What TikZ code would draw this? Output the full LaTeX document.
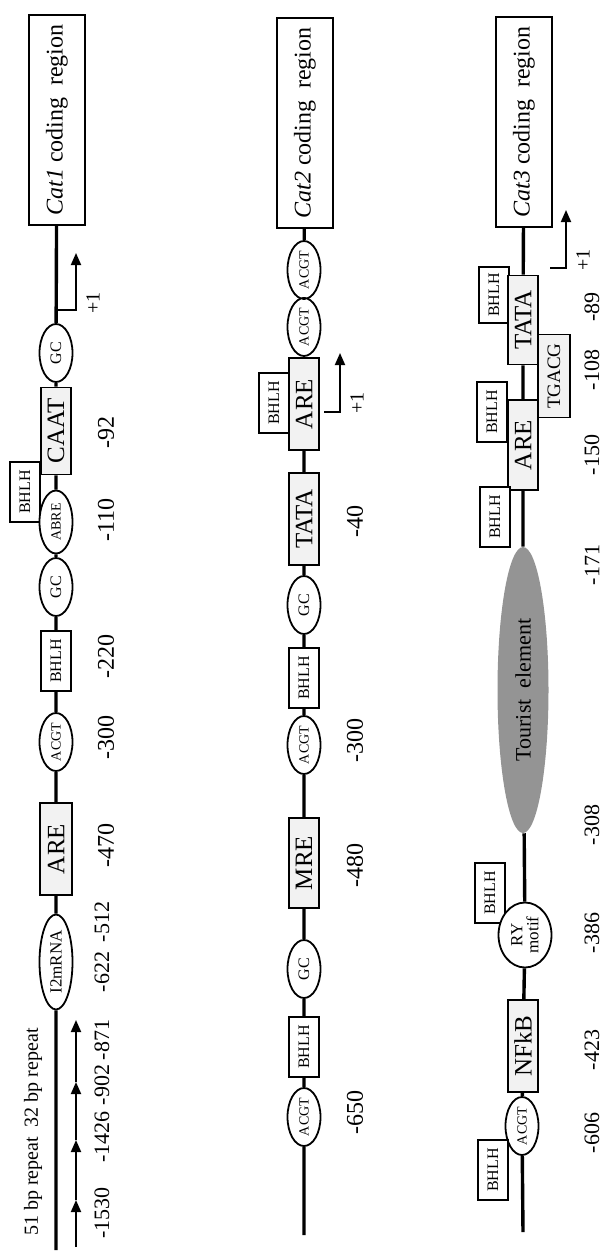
\documentclass[tikz,border=0pt]{standalone}
\usepackage{fontspec}
\setmainfont{Liberation Serif}
\usetikzlibrary{arrows.meta,shapes.geometric}
\tikzset{
  dna/.style={line width=1.7pt},
  site/.style={draw,line width=0.9pt,fill=gray!10,rotate=90,inner sep=0pt,minimum width=46pt,minimum height=15pt,font=\fontsize{12.5}{12}\selectfont},
  bhlh/.style={draw,line width=0.9pt,fill=white,rotate=90,inner sep=0pt,minimum width=30pt,minimum height=15pt,font=\fontsize{8}{8}\selectfont},
  motif/.style={draw,ellipse,line width=0.9pt,fill=white,rotate=90,inner sep=0pt,minimum width=29pt,minimum height=16.5pt,font=\fontsize{7}{7}\selectfont},
  coding/.style={draw,line width=0.9pt,fill=white,rotate=90,minimum width=105pt,minimum height=28pt,font=\fontsize{12}{12}\selectfont},
  bpnum/.style={rotate=90,inner sep=0pt,font=\fontsize{12}{12}\selectfont},
  tss/.style={line width=0.9pt,-{Triangle[length=6pt,width=5pt]}},
}

\begin{document}
\begin{tikzpicture}[x=0.5pt,y=-0.5pt]
\useasboundingbox (0,0) rectangle (605,1258);
% Cat1
\begin{scope}[shift={(56,0)}]
\node[coding] (code1) at (1,120) {\textit{Cat1} coding\enspace region};
\node[motif,font=\fontsize{8}{8}\selectfont] (gc1a) at (0,353) {GC};
\node[site,minimum width=43.5pt] (caat1) at (0,431) {CAAT};
\node[bhlh] (bh1a) at (-31,492) {BHLH};
\node[motif,minimum width=31.5pt] (abre1) at (0,522) {ABRE};
\node[motif,font=\fontsize{8}{8}\selectfont] (gc1b) at (0,587) {GC};
\node[bhlh] (bh1b) at (0,661) {BHLH};
\node[motif] (acgt1) at (0,742) {ACGT};
\node[site,minimum height=16pt] (are1) at (0,849) {ARE};
\node[motif,minimum width=47.5pt,font=\fontsize{8.5}{8.5}\selectfont] (mrna1) at (0,962) {I2mRNA};
\coordinate (end1) at (0,1250);
\draw[dna] (code1) -- (gc1a) -- (caat1) -- (abre1) -- (gc1b) -- (bh1b) -- (acgt1) -- (are1) -- (mrna1) -- (end1);
\coordinate (tss1) at (0,310); \coordinate (tip1) at (20,253);
\draw[tss] (tss1) -| (tip1);
\node[bpnum,font=\fontsize{10}{10}\selectfont] (plus1) at (37,303) {+1};
\foreach \ya/\yb in {1247/1200,1200/1140,1140/1082,1082/1020}
  \draw[tss] (20,\ya) -- (20,\yb);
\node[rotate=90,font=\fontsize{10}{10}\selectfont] (rep1) at (-23,1132) {51 bp repeat\enspace 32 bp repeat};
\foreach \y/\t in {432/-92,520/-110,656/-220,737/-300,845/-470}
  \node[bpnum] (c1p\y) at (50,\y) {\t};
\foreach \y/\t in {922/-512,972/-622,1040/-871,1085/-902,1137/-1426,1213/-1530}
  \node[bpnum,font=\fontsize{11}{11}\selectfont] (c1p\y) at (46,\y) {\t};
\end{scope}
% Cat2
\begin{scope}[shift={(304,0)}]
\node[coding] (code2) at (1,123) {\textit{Cat2} coding\enspace region};
\node[motif] (acgt2a) at (0,270) {ACGT};
\node[motif] (acgt2b) at (0,327) {ACGT};
\node[bhlh] (bh2a) at (-30,403) {BHLH};
\node[site] (are2) at (0,404) {ARE};
\node[site] (tata2) at (0,519) {TATA};
\node[motif,font=\fontsize{8}{8}\selectfont] (gc2a) at (0,605) {GC};
\node[bhlh] (bh2b) at (0,678) {BHLH};
\node[motif] (acgt2c) at (0,745) {ACGT};
\node[site,minimum width=45pt] (mre2) at (0,863) {MRE};
\node[motif,font=\fontsize{8}{8}\selectfont] (gc2b) at (0,969) {GC};
\node[bhlh] (bh2c) at (0,1047) {BHLH};
\node[motif] (acgt2d) at (0,1117) {ACGT};
\coordinate (end2) at (0,1235);
\draw[dna] (code2) -- (acgt2a) -- (acgt2b) -- (are2) -- (tata2) -- (gc2a) -- (bh2b) -- (acgt2c) -- (mre2) -- (gc2b) -- (bh2c) -- (acgt2d) -- (end2);
\coordinate (tss2) at (20,412); \coordinate (tip2) at (36,353);
\draw[tss] (tss2) -| (tip2);
\node[bpnum,font=\fontsize{10}{10}\selectfont] (plus2) at (53,403) {+1};
\foreach \y/\t in {521/-40,740/-300,865/-480,1112/-650}
  \node[bpnum] (c2p\y) at (51,\y) {\t};
\end{scope}
% Cat3
\begin{scope}[shift={(523,0)}]
\node[coding] (code3) at (1,122) {\textit{Cat3} coding\enspace region};
\node[bhlh,minimum width=28pt] (bh3a) at (-29,295) {BHLH};
\node[site,minimum width=44.5pt] (tata3) at (0,320) {TATA};
\node[site,minimum width=41.5pt,minimum height=16pt,font=\fontsize{9.5}{9.5}\selectfont] (tgacg3) at (31,376) {TGACG};
\node[bhlh] (bh3b) at (-31,412) {BHLH};
\node[site,minimum width=45pt] (are3) at (0,445) {ARE};
\node[bhlh] (bh3c) at (-28,517) {BHLH};
\node[ellipse,fill=black!42,rotate=90,inner sep=0pt,minimum width=143pt,minimum height=25.5pt,font=\fontsize{11}{11}\selectfont] (tour3) at (0,690) {Tourist\enspace element};
\node[bhlh] (bh3d) at (-33,893) {BHLH};
\node[motif,minimum width=32.5pt,minimum height=26.5pt,align=center,font=\fontsize{8.5}{8}\selectfont] (ry3) at (2,935) {RY\\motif};
\node[site] (nfkb3) at (0,1046) {NFkB};
\node[motif] (acgt3) at (-1,1126) {ACGT};
\node[bhlh] (bh3e) at (-30,1170) {BHLH};
\coordinate (end3) at (0,1232);
\draw[dna] (code3) -- (tata3) -- (are3) -- (tour3) -- (ry3) -- (nfkb3) -- (acgt3) -- (end3);
\coordinate (tss3) at (27,268); \coordinate (tip3) at (43,210);
\draw[tss] (tss3) -| (tip3);
\node[bpnum,font=\fontsize{10}{10}\selectfont] (plus3) at (60,260) {+1};
\foreach \y/\t in {307/-89,370/-108,455/-150,565/-171,825/-308,933/-386,1050/-423,1133/-606}
  \node[bpnum,font=\fontsize{11}{11}\selectfont] (c3p\y) at (69,\y) {\t};
\end{scope}
\end{tikzpicture}
\end{document}
